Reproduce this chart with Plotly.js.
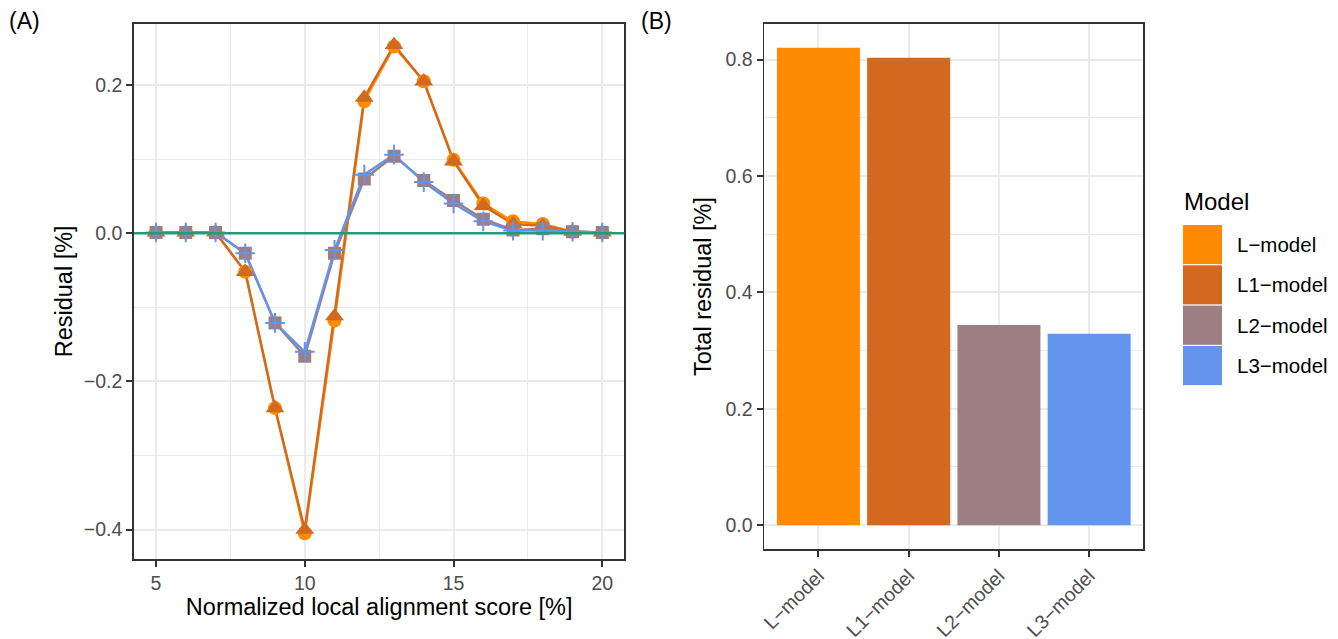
<!DOCTYPE html>
<html>
<head>
<meta charset="utf-8">
<script src="https://cdn.plot.ly/plotly-3.0.1.min.js"></script>
<style>
  html, body { margin: 0; padding: 0; background: #ffffff; }
  #chart { width: 1338px; height: 639px; }
</style>
</head>
<body>
<div id="chart"></div>
<script>
// Residuals per normalized local alignment score, one series per model
const score = [5, 6, 7, 8, 9, 10, 11, 12, 13, 14, 15, 16, 17, 18, 19, 20];
const residualL  = [0.001, 0.001, 0.001, -0.052, -0.236, -0.405, -0.118, 0.178, 0.252, 0.205, 0.099, 0.040, 0.016, 0.0125, 0.002, 0.001];
const residualL1 = [0.001, 0.001, 0.001, -0.052, -0.236, -0.400, -0.112, 0.183, 0.254, 0.205, 0.097, 0.037, 0.0125, 0.010, 0.002, 0.001];
const residualL2 = [0.001, 0.001, 0.001, -0.027, -0.121, -0.166, -0.027, 0.073, 0.104, 0.071, 0.044, 0.019, 0.0045, 0.006, 0.002, 0.001];
const residualL3 = [0.001, 0.001, 0.001, -0.027, -0.121, -0.160, -0.0225, 0.079, 0.106, 0.069, 0.040, 0.016, 0.0035, 0.0035, 0.002, 0.001];

// Total residual per model
const models = ['L\u2212model', 'L1\u2212model', 'L2\u2212model', 'L3\u2212model'];
const totalResidual = [0.820, 0.803, 0.344, 0.329];

const modelColors = ['#FF8C00', '#D2691E', '#9D7E82', '#6495ED'];
const residualSeries = [residualL, residualL1, residualL2, residualL3];
const markerStyles = [
  { symbol: 'circle', size: 14 },
  { symbol: 'triangle-up', size: 16.5 },
  { symbol: 'square', size: 13 },
  { symbol: 'cross-thin', size: 14 }
];

const W = 1338, H = 639;
const px = v => v / W;
const py = v => 1 - v / H;

const tickFont = { family: 'Liberation Sans, Arial, sans-serif', size: 19.5, color: '#4D4D4D' };
const titleFont = { family: 'Liberation Sans, Arial, sans-serif', size: 23.5, color: '#000000' };
const gridMajor = '#EBEBEB';
const frame = '#333333';

const traces = [];

// lines first, markers on top
residualSeries.forEach((ys, i) => {
  traces.push({
    type: 'scatter', mode: 'lines', x: score, y: ys,
    xaxis: 'x', yaxis: 'y', showlegend: false, hoverinfo: 'skip',
    line: { color: modelColors[i], width: 2.4 }
  });
});
residualSeries.forEach((ys, i) => {
  const m = markerStyles[i];
  const marker = { symbol: m.symbol, size: m.size, color: modelColors[i] };
  if (m.symbol === 'cross-thin') marker.line = { color: modelColors[i], width: 2 };
  else marker.line = { width: 0 };
  traces.push({
    type: 'scatter', mode: 'markers', x: score, y: ys, name: models[i],
    xaxis: 'x', yaxis: 'y', showlegend: false, marker: marker
  });
});

// bar panel
traces.push({
  type: 'bar', x: models, y: totalResidual,
  xaxis: 'x2', yaxis: 'y2', showlegend: false,
  width: 0.92,
  marker: { color: modelColors, line: { width: 0 } }
});

const shapes = [
  // zero reference line
  { type: 'line', xref: 'x domain', yref: 'y', x0: 0, x1: 1, y0: 0, y1: 0,
    line: { color: '#1B9E77', width: 2.4 }, layer: 'above' }
];
const annotations = [
  { text: '(A)', xref: 'paper', yref: 'paper', x: px(7), y: py(21), xanchor: 'left', yanchor: 'middle',
    showarrow: false, font: { family: titleFont.family, size: 23, color: '#000' } },
  { text: '(B)', xref: 'paper', yref: 'paper', x: px(639), y: py(21), xanchor: 'left', yanchor: 'middle',
    showarrow: false, font: { family: titleFont.family, size: 23, color: '#000' } },
  { text: 'Model', xref: 'paper', yref: 'paper', x: px(1182), y: py(201), xanchor: 'left', yanchor: 'middle',
    showarrow: false, font: { family: titleFont.family, size: 24, color: '#000' } }
];

// legend keys and labels
const keyTop = 224.5, keyH = 40.3, keyLeft = 1182.5, keyW = 40;
models.forEach((name, i) => {
  const t = keyTop + i * keyH;
  shapes.push({
    type: 'rect', xref: 'paper', yref: 'paper',
    x0: px(keyLeft), x1: px(keyLeft + keyW), y0: py(t + keyH), y1: py(t),
    fillcolor: modelColors[i], line: { color: '#ffffff', width: 1 }
  });
  annotations.push({
    text: name, xref: 'paper', yref: 'paper', x: px(1235), y: py(t + keyH / 2),
    xanchor: 'left', yanchor: 'middle', showarrow: false,
    font: { family: titleFont.family, size: 20.5, color: '#000' }
  });
});

const layout = {
  width: W, height: H,
  margin: { l: 0, r: 0, t: 0, b: 0 },
  paper_bgcolor: '#ffffff', plot_bgcolor: '#ffffff',
  showlegend: false,
  xaxis: {
    domain: [px(134), px(624.3)], range: [4.26, 20.74],
    tickmode: 'array', tickvals: [5, 10, 15, 20], ticktext: ['5', '10', '15', '20'],
    ticks: 'outside', ticklen: 6, tickwidth: 2, tickcolor: frame,
    tickfont: tickFont, showline: true, mirror: true, linecolor: frame, linewidth: 1.8,
    showgrid: true, gridcolor: gridMajor, gridwidth: 2, zeroline: false,
    minor: { tickvals: [7.5, 12.5, 17.5], showgrid: true, gridcolor: gridMajor, gridwidth: 1, ticks: '' },
    title: { text: 'Normalized local alignment score [%]', font: titleFont, standoff: 4 },
    automargin: false
  },
  yaxis: {
    domain: [py(558.7), py(24)], range: [-0.4392, 0.2823],
    tickmode: 'array', tickvals: [-0.4, -0.2, 0, 0.2], ticktext: ['\u22120.4', '\u22120.2', '0.0', '0.2'],
    ticks: 'outside', ticklen: 6, tickwidth: 2, tickcolor: frame,
    tickfont: tickFont, showline: true, mirror: true, linecolor: frame, linewidth: 1.8,
    showgrid: true, gridcolor: gridMajor, gridwidth: 2, zeroline: false,
    minor: { tickvals: [-0.3, -0.1, 0.1], showgrid: true, gridcolor: gridMajor, gridwidth: 1, ticks: '' },
    title: { text: 'Residual [%]', font: titleFont, standoff: 4 },
    automargin: false
  },
  xaxis2: {
    domain: [px(764.3), px(1143.3)], range: [-0.6, 3.6], type: 'category',
    anchor: 'y2',
    ticks: 'outside', ticklen: 6, tickwidth: 2, tickcolor: frame, tickangle: -45,
    tickfont: tickFont, showline: true, mirror: true, linecolor: frame, linewidth: 1.8,
    showgrid: true, gridcolor: gridMajor, gridwidth: 2, zeroline: false,
    automargin: false
  },
  yaxis2: {
    domain: [py(549), py(24)], range: [-0.041, 0.861], anchor: 'x2',
    tickmode: 'array', tickvals: [0, 0.2, 0.4, 0.6, 0.8], ticktext: ['0.0', '0.2', '0.4', '0.6', '0.8'],
    ticks: 'outside', ticklen: 6, tickwidth: 2, tickcolor: frame,
    tickfont: tickFont, showline: true, mirror: true, linecolor: frame, linewidth: 1.8,
    showgrid: true, gridcolor: gridMajor, gridwidth: 2, zeroline: false,
    minor: { tickvals: [0.1, 0.3, 0.5, 0.7], showgrid: true, gridcolor: gridMajor, gridwidth: 1, ticks: '' },
    title: { text: 'Total residual [%]', font: titleFont, standoff: 7 },
    automargin: false
  },
  shapes: shapes,
  annotations: annotations
};

Plotly.newPlot('chart', traces, layout, { displayModeBar: false, staticPlot: true });
</script>
</body>
</html>
